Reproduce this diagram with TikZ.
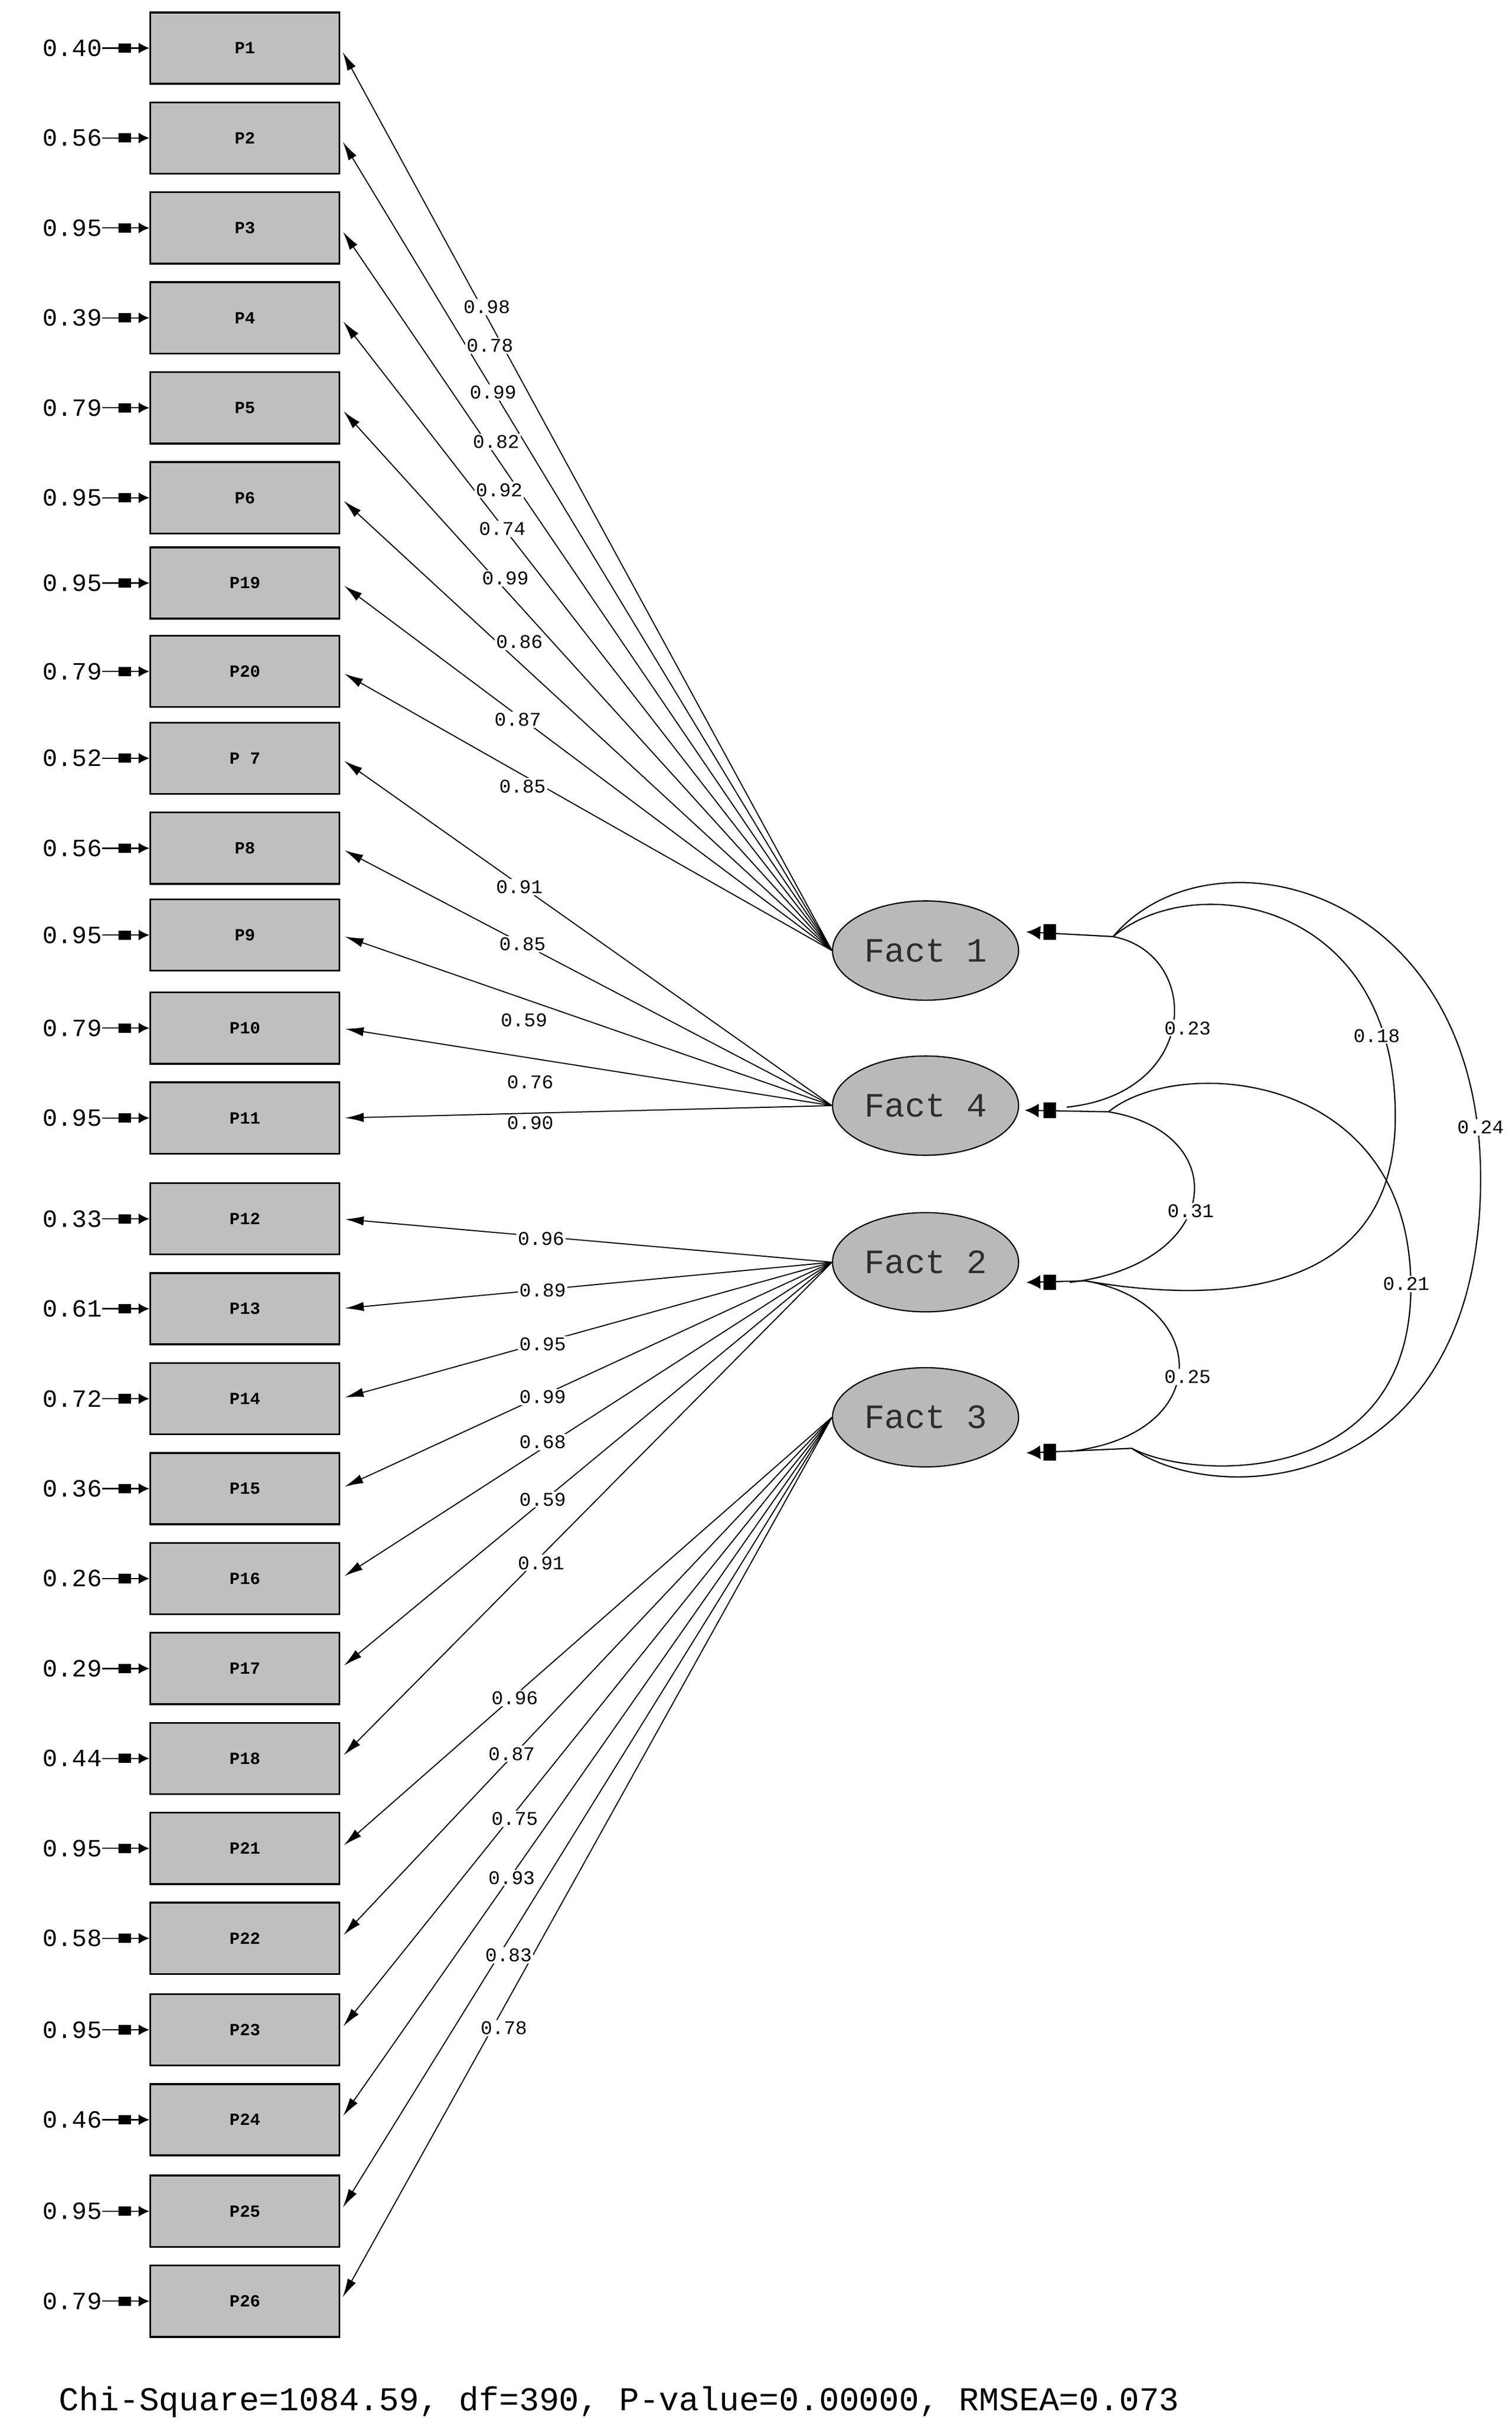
\documentclass[tikz,border=0pt]{standalone}
\usepackage{fontspec}
\setmainfont{Liberation Mono}
\usetikzlibrary{arrows.meta,shapes.geometric}
\begin{document}
\begin{tikzpicture}[x=1pt,y=-1pt,
  box/.style={draw,line width=1.2pt,fill=gray!50,minimum width=122pt,minimum height=46pt,inner sep=0pt,font=\fontsize{11}{11}\selectfont\bfseries},
  fact/.style={ellipse,draw,line width=0.8pt,fill=gray!55,minimum width=120pt,minimum height=64pt,inner sep=0pt,text=gray!35!black,font=\fontsize{22}{22}\selectfont},
  err/.style={anchor=east,font=\fontsize{16}{16}\selectfont,inner sep=0pt},
  erra/.style={line width=0.8pt,-{Latex[length=7pt,width=7pt]}},
  load/.style={line width=0.7pt,-{Latex[length=12pt,width=6pt]},shorten >=3pt},
  lab/.style={fill=white,inner sep=1pt,font=\fontsize{12.5}{12.5}\selectfont},
  cov/.style={line width=0.8pt},
  stub/.style={line width=0.8pt,-{Latex[length=9pt,width=9pt]}}]
\useasboundingbox (0,0) rectangle (975,1560);
\fill[white] (0,0) rectangle (975,1560);
% observed variables
\foreach \n/\t/\y/\e in {p1/P1/31/0.40,p2/P2/89/0.56,p3/P3/147/0.95,p4/P4/205/0.39,p5/P5/263/0.79,p6/P6/321/0.95,p19/P19/376/0.95,p20/P20/433/0.79,p7/P 7/489/0.52,p8/P8/547/0.56,p9/P9/603/0.95,p10/P10/663/0.79,p11/P11/721/0.95,p12/P12/786/0.33,p13/P13/844/0.61,p14/P14/902/0.72,p15/P15/960/0.36,p16/P16/1018/0.26,p17/P17/1076/0.29,p18/P18/1134/0.44,p21/P21/1192/0.95,p22/P22/1250/0.58,p23/P23/1309/0.95,p24/P24/1367/0.46,p25/P25/1426/0.95,p26/P26/1484/0.79}{
  \node[box] (\n) at (158,\y) {\t};
  \node[err] (e\n) at (66,\y) {\e};
  \draw[erra] (e\n.east) -- (\n.west);
  \fill ([xshift=-20pt,yshift=-3pt]\n.west) rectangle ([xshift=-12pt,yshift=3pt]\n.west);
}
% factors
\node[fact] (f1) at (597,613) {Fact 1};
\node[fact] (f4) at (597,713) {Fact 4};
\node[fact] (f2) at (597,814) {Fact 2};
\node[fact] (f3) at (597,914) {Fact 3};
% loadings
\foreach \n in {p1,p2,p3,p4,p5,p6,p19,p20}{\draw[load] (f1.west) -- (\n.east);}
\foreach \n in {p7,p8,p9,p10,p11}{\draw[load] (f4.west) -- (\n.east);}
\foreach \n in {p12,p13,p14,p15,p16,p17,p18}{\draw[load] (f2.west) -- (\n.east);}
\foreach \n in {p21,p22,p23,p24,p25,p26}{\draw[load] (f3.west) -- (\n.east);}
\foreach \v/\x/\y [count=\i] in {0.98/314/198,0.78/316/223,0.99/318/253,0.82/320/285,0.92/322/316,0.74/324/341,0.99/326/373,0.86/335/414,0.87/334/464,0.85/337/507,
  0.91/335/572,0.85/337/609,0.59/338/658,0.76/342/698,0.90/342/724,
  0.96/349/799,0.89/350/832,0.95/350/867,0.99/350/901,0.68/350/930,0.59/350/967,0.91/349/1008,
  0.96/332/1095,0.87/330/1131,0.75/332/1173,0.93/330/1211,0.83/328/1261,0.78/325/1308}{
  \node[lab] (l\i) at (\x,\y) {\v};
}
% covariance stubs
\coordinate (c1) at (718,604);
\coordinate (c4) at (715,717);
\coordinate (c2) at (700,826);
\coordinate (c3) at (730,934);
\coordinate (s1) at (662,601);
\coordinate (s4) at (661,716);
\coordinate (s2) at (662,827);
\coordinate (s3) at (662,937);
\draw[stub] (c1) -- (s1);
\draw[stub] (c4) -- (s4);
\draw[stub] (c2) -- (s2);
\draw[stub] (c3) -- (s3);
\fill (673,596) rectangle (681,606);
\fill (673,711) rectangle (681,721);
\fill (673,822) rectangle (681,832);
\fill (673,931) rectangle (681,942);
% covariances
\draw[cov] (c1) .. controls (775,615) and (775,705) .. (688,714);
\draw[cov] (c1) .. controls (770,560) and (900,580) .. (900,720) .. controls (900,840) and (780,840) .. (c2);
\draw[cov] (c1) .. controls (780,530) and (955,570) .. (955,760) .. controls (955,960) and (790,975) .. (c3);
\draw[cov] (c4) .. controls (795,730) and (790,815) .. (690,827);
\draw[cov] (c4) .. controls (760,680) and (910,690) .. (910,830) .. controls (910,960) and (770,955) .. (c3);
\draw[cov] (c2) .. controls (780,840) and (785,925) .. (690,936);
\node[lab] at (766,663) {0.23};
\node[lab] at (888,668) {0.18};
\node[lab] at (955,727) {0.24};
\node[lab] at (768,781) {0.31};
\node[lab] at (907,828) {0.21};
\node[lab] at (766,888) {0.25};
\node[anchor=west,font=\fontsize{21.5}{21.5}\selectfont,inner sep=0pt] (fit) at (38,1549) {Chi-Square=1084.59, df=390, P-value=0.00000, RMSEA=0.073};
\end{tikzpicture}
\end{document}
